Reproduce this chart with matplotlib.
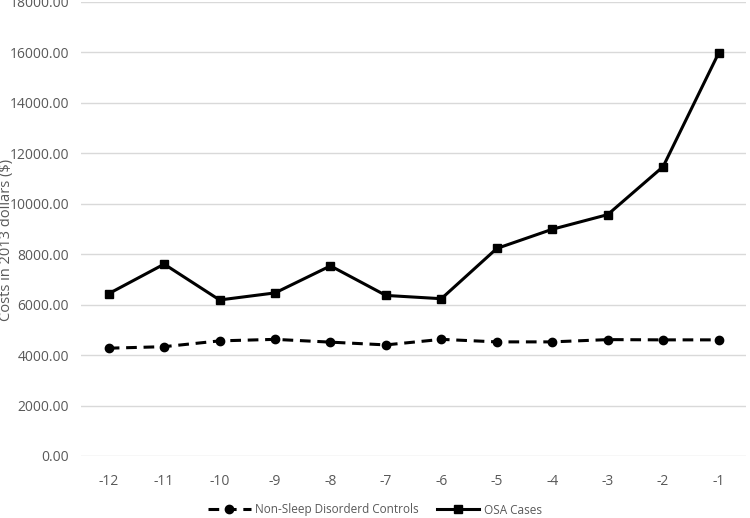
import matplotlib.pyplot as plt

# data
years = [-12, -11, -10, -9, -8, -7, -6, -5, -4, -3, -2, -1]
controls = [4270, 4330, 4560, 4620, 4510, 4400, 4620, 4520, 4520, 4610, 4600, 4600]
osa_cases = [6430, 7600, 6180, 6460, 7530, 6360, 6230, 8220, 8980, 9560, 11460, 15950]
y_ticks = [0, 2000, 4000, 6000, 8000, 10000, 12000, 14000, 16000, 18000]

plt.rcParams["font.family"] = ["Open Sans", "DejaVu Sans"]
grey = "#595959"

fig = plt.figure(figsize=(7.5, 5.18), dpi=100)
ax = fig.add_axes([0.108, 0.1197, 0.887, 0.8773])

x = list(range(len(years)))
ax.plot(x, controls, color="black", linewidth=2.2, linestyle=(0, (3.5, 2.2)),
        marker="o", markersize=6, label="Non-Sleep Disorderd Controls", zorder=3)
ax.plot(x, osa_cases, color="black", linewidth=2.2, marker="s", markersize=6,
        label="OSA Cases", zorder=3)

ax.set_xlim(-0.5, len(years) - 0.5)
ax.set_xticks(x)
ax.set_xticklabels([str(v) for v in years])
ax.set_ylim(0, 18000)
ax.set_yticks(y_ticks)
ax.set_yticklabels([f"{v:.2f}" for v in y_ticks])
ax.grid(axis="y", color="#d9d9d9", linewidth=1)
ax.set_axisbelow(True)
for side in ["top", "right", "left", "bottom"]:
    ax.spines[side].set_visible(False)
ax.tick_params(length=0, colors=grey, labelsize=10, pad=13)
ax.tick_params(axis="y", pad=8.6)

# y label drawn at the left edge of the figure
fig.text(7 / 750, 1 - 240 / 518, "Costs in 2013 dollars ($)", rotation=90,
         ha="center", va="center", color=grey, fontsize=10.5)

fig.legend(*ax.get_legend_handles_labels(), loc="center",
           bbox_to_anchor=(0.5, 1 - 510 / 518), ncol=2, frameon=False,
           fontsize=8.5, labelcolor=grey, handlelength=3.6, columnspacing=1.5,
           handletextpad=0.4)

plt.savefig("out.png", dpi=100)
